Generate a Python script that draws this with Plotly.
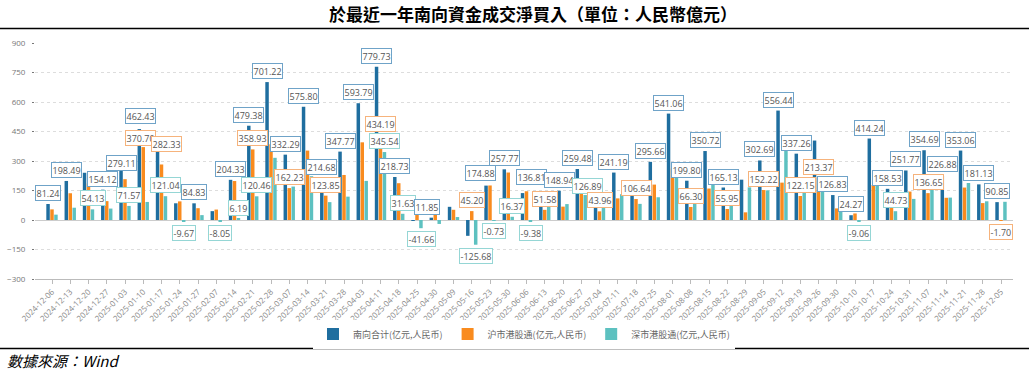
import plotly.graph_objects as go

dates = ["2024-12-06", "2024-12-13", "2024-12-20", "2024-12-27", "2025-01-03", "2025-01-10",
         "2025-01-17", "2025-01-24", "2025-01-27", "2025-02-07", "2025-02-14", "2025-02-21",
         "2025-02-28", "2025-03-07", "2025-03-14", "2025-03-21", "2025-03-28", "2025-04-03",
         "2025-04-11", "2025-04-18", "2025-04-25", "2025-04-30", "2025-05-09", "2025-05-16",
         "2025-05-23", "2025-05-30", "2025-06-06", "2025-06-13", "2025-06-20", "2025-06-27",
         "2025-07-04", "2025-07-11", "2025-07-18", "2025-07-25", "2025-08-01", "2025-08-08",
         "2025-08-15", "2025-08-22", "2025-08-29", "2025-09-05", "2025-09-12", "2025-09-19",
         "2025-09-26", "2025-09-30", "2025-10-10", "2025-10-17", "2025-10-24", "2025-10-31",
         "2025-11-07", "2025-11-14", "2025-11-21", "2025-11-28", "2025-12-05"]

# 南向合计
total = [81.24, 198.49, 240.13, 154.12, 279.11, 462.43, 403.37, 85.00, 84.83, 45.00,
         204.33, 479.38, 701.22, 332.29, 575.80, 214.68, 347.77, 593.79, 779.73, 218.73,
         -2.66, 11.85, 67.00, -80.48, 174.88, 257.77, 136.81, 124.58, 148.94, 259.48,
         105.00, 241.19, 188.64, 295.66, 541.06, 199.80, 350.72, 165.13, 205.00, 302.69,
         556.44, 337.26, 404.00, 126.83, 24.27, 414.24, 158.53, 251.77, 354.69, 226.88,
         353.06, 181.13, 90.85]

# 沪市港股通
sh = [54.00, 136.00, 186.00, 96.00, 207.54, 370.70, 282.33, 94.67, 60.00, 53.05,
      198.14, 358.93, 385.00, 162.23, 353.00, 123.85, 229.00, 395.00, 434.19, 187.10,
      39.00, 32.00, 52.00, 45.20, 175.61, 241.40, 146.19, 51.58, 68.00, 132.59,
      43.96, 110.00, 106.64, 180.00, 262.00, 66.30, 160.00, 55.95, 39.00, 152.22,
      190.00, 122.15, 213.37, 59.00, 33.33, 178.00, 113.80, 144.50, 136.65, 113.00,
      165.00, 86.00, -1.70]

# 深市港股通
sz = [27.24, 62.49, 54.13, 58.12, 71.57, 91.73, 121.04, -9.67, 24.83, -8.05,
      6.19, 120.46, 316.22, 170.06, 222.80, 90.83, 118.77, 198.79, 345.54, 31.63,
      -41.66, -20.15, 15.00, -125.68, -0.73, 16.37, -9.38, 73.00, 80.94, 126.89,
      61.04, 131.19, 82.00, 115.66, 279.06, 133.50, 190.72, 109.18, 166.00, 150.47,
      366.44, 215.11, 190.63, 67.83, -9.06, 236.24, 44.73, 107.27, 218.04, 113.88,
      188.06, 95.13, 92.55]

series_names = ["南向合计(亿元,人民币)", "沪市港股通(亿元,人民币)", "深市港股通(亿元,人民币)"]
series_values = [total, sh, sz]

# which value labels are shown: (series index, week number 1-based)
shown_labels = [(0, 1), (0, 2), (2, 3), (0, 4), (0, 5), (2, 5), (0, 6), (1, 6), (1, 7), (2, 7),
                (2, 8), (0, 9), (2, 10), (0, 11), (2, 11), (0, 12), (1, 12), (2, 12),
                (0, 13), (0, 14), (1, 14), (0, 15), (0, 16), (1, 16), (0, 17), (0, 18),
                (0, 19), (1, 19), (2, 19), (0, 20), (2, 20), (2, 21), (0, 22), (1, 24), (2, 24),
                (0, 25), (2, 25), (0, 26), (2, 26), (0, 27), (2, 27), (1, 28), (0, 29), (0, 30),
                (2, 30), (1, 31), (0, 32), (1, 33), (0, 34), (0, 35), (0, 36), (1, 36), (0, 37),
                (0, 38), (1, 38), (0, 40), (1, 40), (0, 41), (0, 42), (1, 42), (1, 43), (0, 44),
                (0, 45), (2, 45), (0, 46), (0, 47), (2, 47), (0, 48), (0, 49), (1, 49), (0, 50),
                (0, 51), (0, 52), (0, 53), (1, 53)]

# ---- styling ----
colors = ["#1f6e9f", "#f98b1e", "#5dc1c0"]
label_borders = ["#6fa3c8", "#f6b37c", "#95d6d5"]
bar_px_offset = [-4, 0, 4]
default_nudge = (0, 11)
nudges = {(0, 5): (0, 2), (1, 7): (5, 20), (0, 22): (-4, 11), (0, 25): (-6, 13),
          (0, 27): (9, 16), (2, 30): (2, 9), (1, 53): (0, 12),
          (0, 6): (1.5, 13), (1, 6): (-3, 9)}

fig = go.Figure()
for name, vals, col in zip(series_names, series_values, colors):
    fig.add_trace(go.Bar(x=dates, y=vals, name=name, marker_color=col, marker_line_width=0))

annotations = []
for s, i in shown_labels:
    v = series_values[s][i - 1]
    dx, dy = nudges.get((s, i), default_nudge)
    annotations.append(dict(
        x=dates[i - 1], y=v, xref="x", yref="y", text=f"{v:.2f}", showarrow=False,
        xshift=bar_px_offset[s] + dx, yshift=dy if v >= 0 else -dy,
        xanchor="center", yanchor="middle",
        font=dict(family="Open Sans", size=9, color="#555555"),
        bgcolor="white", bordercolor=label_borders[s], borderwidth=1, borderpad=0.5))

W, H = 1029, 373
L, R, T, B = 35, 16, 43, 94
pw, ph = W - L - R, H - T - B


def px_to_paper_y(y):
    return (H - B - y) / ph


def px_to_paper_x(x):
    return (x - L) / pw


annotations.append(dict(
    x=px_to_paper_x(5), y=px_to_paper_y(360), xref="paper", yref="paper",
    xanchor="left", yanchor="middle", showarrow=False,
    text="<i>數據來源：Wind</i>",
    font=dict(family="Noto Sans CJK TC", size=15, color="black")))

shapes = [
    dict(type="line", xref="paper", yref="paper", x0=px_to_paper_x(0), x1=px_to_paper_x(W),
         y0=px_to_paper_y(28.5), y1=px_to_paper_y(28.5), line=dict(color="black", width=1.5)),
    dict(type="line", xref="paper", yref="paper", x0=px_to_paper_x(0), x1=px_to_paper_x(W),
         y0=px_to_paper_y(348.5), y1=px_to_paper_y(348.5), line=dict(color="black", width=1.5)),
]

fig.update_layout(
    width=W, height=H,
    margin=dict(l=L, r=R, t=T, b=B, pad=0, autoexpand=False),
    paper_bgcolor="white", plot_bgcolor="white",
    barmode="group", bargap=0.35, bargroupgap=0.12,
    title=dict(text="<b>於最近一年南向資金成交淨買入（單位：人民幣億元）</b>",
               x=533 / W, xanchor="center", y=1 - 15 / H, yanchor="middle",
               font=dict(family="Noto Sans CJK TC", size=17, color="black")),
    legend=dict(orientation="h", x=0.5, xanchor="center", y=px_to_paper_y(334), yanchor="middle",
                font=dict(family="Noto Sans CJK SC", size=9, color="#666666"),
                itemwidth=30, traceorder="normal"),
    annotations=annotations, shapes=shapes,
    showlegend=True,
)

fig.update_xaxes(type="category", categoryorder="array", categoryarray=dates,
                 tickangle=-45, tickfont=dict(family="Open Sans", size=8, color="#888888"),
                 showline=True, linecolor="#bbbbbb", linewidth=1, automargin=False,
                 ticks="outside", ticklen=4, tickcolor="#bbbbbb", showgrid=False)
fig.update_yaxes(range=[-300, 900], dtick=150, tick0=0, automargin=False,
                 tickfont=dict(family="Open Sans", size=8, color="#777777"),
                 showgrid=True, gridcolor="#dddddd", griddash="dot", gridwidth=1,
                 zeroline=True, zerolinecolor="#cccccc", zerolinewidth=1,
                 ticks="outside", ticklen=2, tickcolor="#777777", ticklabelstandoff=5,
                 showline=False)

fig.write_html("out.html", config={"displayModeBar": False},
               post_script="document.body.style.margin='0';document.body.style.overflow='hidden';")
